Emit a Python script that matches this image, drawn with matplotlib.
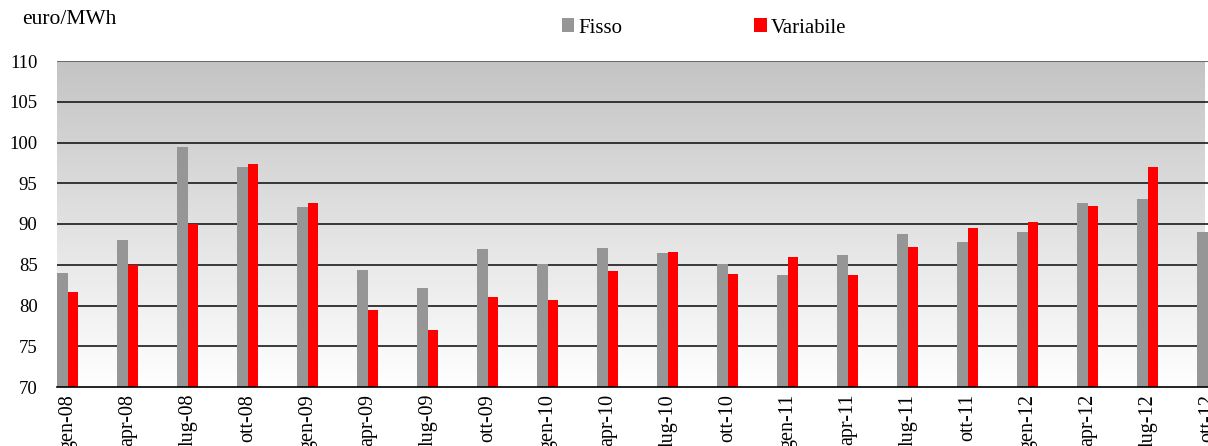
import matplotlib.pyplot as plt
import numpy as np

# Dati (euro/MWh)
periodi = ['gen-08', 'apr-08', 'lug-08', 'ott-08', 'gen-09', 'apr-09', 'lug-09',
           'ott-09', 'gen-10', 'apr-10', 'lug-10', 'ott-10', 'gen-11', 'apr-11',
           'lug-11', 'ott-11', 'gen-12', 'apr-12', 'lug-12', 'ott-12']
fisso = [84.0, 88.0, 99.5, 97.0, 92.1, 84.4, 82.2, 86.9, 85.1, 87.0,
         86.5, 85.1, 83.7, 86.2, 88.8, 87.8, 89.0, 92.6, 93.1, 89.0]
variabile = [81.7, 85.0, 90.0, 97.4, 92.6, 79.4, 77.0, 81.0, 80.7, 84.2,
             86.6, 83.9, 85.9, 83.8, 87.2, 89.5, 90.3, 92.2, 97.0, np.nan]

plt.rcParams['font.family'] = ['Liberation Serif', 'DejaVu Serif']

fig = plt.figure(figsize=(12.08, 4.46), dpi=100)
ax = fig.add_axes([57 / 1208, 1 - 387 / 446, 1 - 57 / 1208, 326 / 446])

x = np.arange(len(periodi))
w = 0.175
ax.bar(x - w / 2, fisso, width=w, color='#969696', label='Fisso', zorder=3)
ax.bar(x + w / 2, variabile, width=w, color='#ff0000', label='Variabile', zorder=3)

ax.set_ylim(70, 110)
ax.set_xlim(-0.178, 18.94)

# sfondo sfumato
grad = np.linspace(0, 1, 256).reshape(-1, 1)
cmap = plt.matplotlib.colors.LinearSegmentedColormap.from_list('g', ['#ffffff', '#c4c4c4'])
ax.imshow(grad, extent=[-0.178, 18.94, 70, 110], origin='lower', aspect='auto',
          cmap=cmap, zorder=0)

ax.set_yticks(np.arange(70, 111, 5))
for v in np.arange(75, 110, 5):
    ax.axhline(v, color='#1a1a1a', lw=1.2, zorder=1)
ax.axhline(110, color='#6e6e6e', lw=1.5, zorder=1)

ax.set_xticks(x)
ax.set_xticklabels(periodi, rotation=90, va='top', fontsize=14.5)
ax.tick_params(axis='both', length=0)
ax.tick_params(axis='y', pad=14, labelsize=13.5)
ax.tick_params(axis='x', pad=5)

for s in ['top', 'right', 'left']:
    ax.spines[s].set_visible(False)
ax.spines['bottom'].set_color('black')
ax.spines['bottom'].set_linewidth(1.2)
ax.spines['bottom'].set_zorder(4)

fig.text(22 / 1208, 1 - 19 / 446, 'euro/MWh', fontsize=15.5, va='center', ha='left')

fig.legend(loc='center', bbox_to_anchor=(704 / 1208, 1 - 28 / 446), ncol=2,
           frameon=False, fontsize=15, handlelength=0.62, handleheight=0.62,
           handletextpad=0.2, columnspacing=6.3)

fig.savefig('out.png', dpi=100)
